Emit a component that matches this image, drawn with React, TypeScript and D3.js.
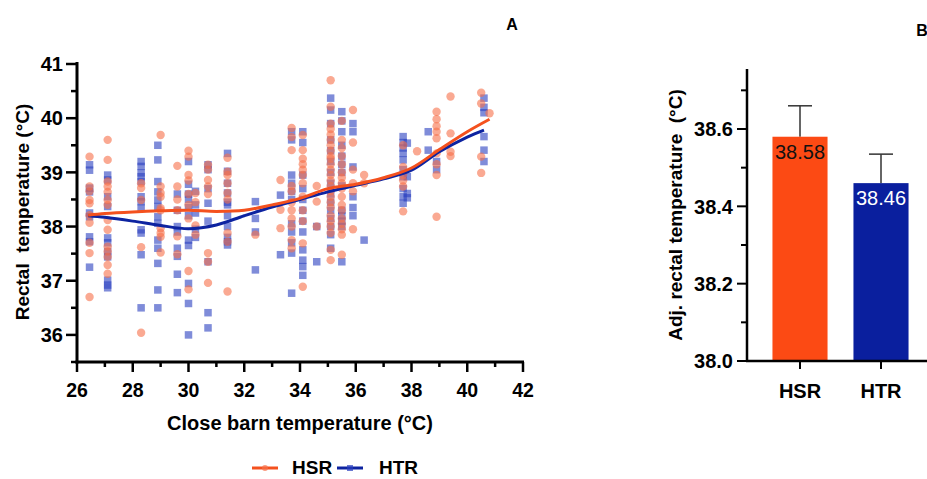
import * as d3 from 'd3';

// scatter (panel A): points grouped by barn temperature column
const hsrCols: [number, number[]][] = [
  [26.45, [39.29, 38.74, 38.65, 38.49, 38.43, 38.21, 38.07, 37.7, 37.51, 36.7]],
  [27.1, [39.6, 39.23, 38.83, 38.74, 38.64, 38.49, 38.4, 38.12, 37.94, 37.63, 37.54, 37.44, 37.29, 37.13]],
  [28.3, [38.8, 38.71, 38.49, 37.62, 36.04]],
  [29.0, [39.69, 38.74, 38.62, 38.55, 38.34, 38.3, 37.97, 37.88, 37.81, 37.52]],
  [29.6, [39.12, 38.74, 38.5, 38.3, 37.82, 37.49]],
  [30.0, [39.4, 39.29, 38.95, 38.85, 38.6, 38.4, 38.15, 37.18, 36.84]],
  [30.25, [38.62, 38.45, 38.02, 37.85]],
  [30.7, [39.14, 39.05, 38.86, 38.74, 38.6, 37.51, 37.35, 36.96]],
  [31.4, [39.27, 39.01, 38.95, 38.8, 38.62, 38.5, 37.88, 37.72, 36.8]],
  [32.4, [37.85]],
  [33.3, [38.86, 38.31, 37.97]],
  [33.7, [39.82, 39.65, 39.41, 38.75, 38.65, 38.45, 38.3, 38.15, 38.0, 37.75, 37.6]],
  [34.1, [39.69, 39.41, 39.25, 39.15, 39.05, 38.95, 38.8, 38.55, 38.3, 38.1, 37.69, 36.89]],
  [34.6, [38.75, 38.46, 38.0]],
  [35.1, [40.7, 40.21, 39.9, 39.8, 39.7, 39.6, 39.5, 39.4, 39.3, 39.25, 39.15, 39.05, 38.95, 38.85, 38.75, 38.65, 38.55, 38.45, 38.35, 38.2, 38.1, 38.0, 37.88, 37.57, 37.38]],
  [35.5, [39.95, 39.6, 39.45, 39.3, 39.15, 39.0, 38.9, 38.8, 38.7, 38.55, 38.4, 38.3, 38.15, 38.05, 37.95, 37.85, 37.48]],
  [35.9, [40.15, 39.55, 39.05, 38.8, 38.65, 37.95]],
  [36.3, [38.95, 38.8]],
  [37.7, [39.5, 39.1, 38.95, 38.85, 38.74, 38.28]],
  [38.2, [39.39]],
  [38.9, [40.12, 39.98, 39.85, 39.75, 39.63, 39.35, 39.15, 38.95, 38.18]],
  [39.4, [40.4, 39.72, 39.38, 39.3]],
  [40.5, [40.47, 40.27, 39.29, 38.99]],
  [40.8, [40.09]],
];

const htrCols: [number, number[]][] = [
  [26.45, [39.14, 39.04, 38.71, 38.64, 38.25, 38.18, 37.81, 37.72, 37.25]],
  [27.1, [38.95, 38.86, 38.55, 38.37, 37.79, 37.7, 37.54, 37.44, 37.01, 36.92, 36.87]],
  [28.3, [39.2, 39.11, 38.99, 38.92, 38.83, 38.55, 38.46, 38.34, 37.94, 37.88, 37.48, 36.5]],
  [28.9, [39.5, 39.23, 38.83, 38.64, 38.49, 38.37, 38.18, 38.06, 37.75, 37.6, 37.32, 36.83, 36.5]],
  [29.6, [38.6, 38.3, 38.0, 37.9, 37.6, 37.45, 37.12, 36.78]],
  [30.0, [39.2, 38.78, 38.6, 38.5, 38.35, 38.2, 37.75, 37.65, 36.95, 36.58, 36.0]],
  [30.25, [38.65, 38.4, 38.25, 37.95, 37.8]],
  [30.7, [39.14, 39.05, 38.7, 38.43, 38.1, 37.35, 36.41, 36.13]],
  [31.4, [39.35, 39.02, 38.8, 38.62, 38.45, 38.4, 38.2, 38.0, 37.8, 37.72, 37.66]],
  [32.4, [38.46, 38.15, 37.9, 37.2]],
  [33.3, [38.58, 37.48]],
  [33.7, [39.75, 39.6, 38.95, 38.8, 38.65, 38.5, 38.05, 37.9, 37.7, 37.51, 36.77]],
  [34.1, [39.75, 39.55, 38.95, 38.7, 38.5, 38.3, 38.1, 37.9, 37.57, 37.38, 37.26, 37.1]],
  [34.6, [38.0, 37.35]],
  [35.1, [40.37, 40.15, 39.9, 39.6, 39.4, 39.2, 39.0, 38.8, 38.6, 38.45, 38.3, 38.15, 38.0, 37.85, 37.6]],
  [35.5, [40.12, 39.95, 39.75, 39.5, 39.3, 39.15, 39.0, 38.75, 38.3, 38.2, 38.1, 38.0, 37.35]],
  [35.9, [39.9, 39.75, 39.1, 38.55, 38.35, 38.2]],
  [36.3, [37.75]],
  [37.7, [39.66, 39.55, 39.45, 39.35, 39.23, 39.05, 38.92, 38.7, 38.55, 38.43]],
  [37.85, [39.54, 38.92, 38.61, 38.53]],
  [38.6, [39.75, 39.41]],
  [38.9, [39.2, 39.05]],
  [40.6, [40.37, 40.2, 40.1, 39.66, 39.41, 39.2]],
];

// smoothed trend lines
const trendX = [26.4, 27, 28, 29, 30, 31, 32, 33, 34, 35, 36, 37, 38, 39, 40, 40.8];
const hsrTrendY = [38.21, 38.24, 38.27, 38.29, 38.3, 38.28, 38.3, 38.4, 38.52, 38.7, 38.78, 38.9, 39.08, 39.42, 39.75, 39.98];
const htrTrendX = [26.4, 27, 28, 29, 30, 31, 32, 33, 34, 35, 36, 37, 38, 39, 40, 40.6];
const htrTrendY = [38.2, 38.17, 38.1, 38.02, 37.96, 38.03, 38.2, 38.36, 38.5, 38.64, 38.76, 38.88, 39.04, 39.38, 39.65, 39.78];

// bar chart (panel B)
const groups = ['HSR', 'HTR'];
const adjMeans = [38.58, 38.46];
const adjSem = [0.08, 0.075];

const xTicksA = [26, 28, 30, 32, 34, 36, 38, 40, 42];
const yTicksA = [36, 37, 38, 39, 40, 41];
const yTicksB = [38.0, 38.2, 38.4, 38.6];

const ORANGE = '#f4511e';
const BLUE = '#0d23a0';
const FONT = 'Arial, "Liberation Sans", Helvetica, sans-serif';

export default function App() {
  const x = d3.scaleLinear().domain([26, 42]).range([77, 523]);
  const y = d3.scaleLinear().domain([35.5, 41]).range([362, 64]);

  const yB = d3.scaleLinear().domain([38, 38.75]).range([361, 71]);
  const xB = d3.scaleBand().domain(groups).range([759.5, 921.5]).paddingInner(0.32).paddingOuter(0.16);

  const line = d3.line<[number, number]>().x(d => x(d[0])).y(d => y(d[1])).curve(d3.curveCatmullRom.alpha(0.5));
  const hsrLine = line(trendX.map((v, i) => [v, hsrTrendY[i]]));
  const htrLine = line(htrTrendX.map((v, i) => [v, htrTrendY[i]]));

  const hsrPts = hsrCols.flatMap(([cx, ys]) => ys.map(v => [cx, v]));
  const htrPts = htrCols.flatMap(([cx, ys]) => ys.map(v => [cx, v]));

  const minorX = d3.range(27, 42, 2);
  const minorY = d3.range(35.5, 41, 1);
  const minorYB = [38.1, 38.3, 38.5, 38.7];

  return (
    <div style={{ position: 'fixed', left: 0, top: 0 }}>
      <svg width={927} height={479} style={{ display: 'block', background: '#fff' }} fontFamily={FONT}>
        {/* panel A */}
        <text x={512} y={30} fontSize={16} fontWeight="bold" textAnchor="middle">A</text>

        <g>
          {htrPts.map((d, i) => (
            <rect key={'b' + i} x={x(d[0]) - 3.75} y={y(d[1]) - 3.75} width={7.5} height={7.5}
              fill="#2a3fbf" fillOpacity={0.6} />
          ))}
          {hsrPts.map((d, i) => (
            <circle key={'o' + i} cx={x(d[0])} cy={y(d[1])} r={4.2}
              fill="#f6704a" fillOpacity={0.6} />
          ))}
        </g>
        <path d={htrLine ?? ''} fill="none" stroke={BLUE} strokeWidth={3} />
        <path d={hsrLine ?? ''} fill="none" stroke={ORANGE} strokeWidth={3} />

        {/* axes A */}
        <line x1={77} x2={77} y1={62} y2={363.5} stroke="#000" strokeWidth={3} />
        <line x1={75.5} x2={524} y1={362} y2={362} stroke="#000" strokeWidth={3} />
        {yTicksA.map(t => (
          <g key={t}>
            <line x1={66} x2={77} y1={y(t)} y2={y(t)} stroke="#000" strokeWidth={2.5} />
            <text x={63} y={y(t)} dy="0.36em" textAnchor="end" fontSize={20} fontWeight="bold">{t}</text>
          </g>
        ))}
        {minorY.map(t => (
          <line key={t} x1={71} x2={77} y1={y(t)} y2={y(t)} stroke="#000" strokeWidth={2.5} />
        ))}
        {xTicksA.map(t => (
          <g key={t}>
            <line x1={x(t)} x2={x(t)} y1={362} y2={372} stroke="#000" strokeWidth={2.5} />
            <text x={x(t)} y={397} textAnchor="middle" fontSize={19.5} fontWeight="bold">{t}</text>
          </g>
        ))}
        {minorX.map(t => (
          <line key={t} x1={x(t)} x2={x(t)} y1={362} y2={367} stroke="#000" strokeWidth={2.5} />
        ))}
        <text x={300} y={430} textAnchor="middle" fontSize={20} fontWeight="bold">Close barn temperature (°C)</text>
        <text transform="translate(29,212) rotate(-90)" textAnchor="middle" fontSize={19} fontWeight="bold"
          style={{ whiteSpace: 'pre' }}>{'Rectal  temperature (°C)'}</text>

        {/* legend */}
        <line x1={252} x2={278} y1={468} y2={468} stroke={ORANGE} strokeWidth={3} />
        <circle cx={265} cy={468} r={3} fill="#f6704a" fillOpacity={0.7} />
        <text x={292} y={474} fontSize={19} fontWeight="bold">HSR</text>
        <line x1={337} x2={363} y1={468} y2={468} stroke={BLUE} strokeWidth={3} />
        <rect x={347} y={465} width={6} height={6} fill="#2a3fbf" fillOpacity={0.7} />
        <text x={379} y={474} fontSize={19} fontWeight="bold">HTR</text>

        {/* panel B */}
        <text x={922} y={36} fontSize={16} fontWeight="bold" textAnchor="middle">B</text>
        {groups.map((g, i) => {
          const bx = xB(g) ?? 0;
          const cx = bx + xB.bandwidth() / 2;
          return (
            <g key={g}>
              <line x1={cx} x2={cx} y1={yB(adjMeans[i])} y2={yB(adjMeans[i] + adjSem[i])} stroke="#333" strokeWidth={1.5} />
              <line x1={cx - 12} x2={cx + 12} y1={yB(adjMeans[i] + adjSem[i])} y2={yB(adjMeans[i] + adjSem[i])} stroke="#333" strokeWidth={1.5} />
              <rect x={bx} y={yB(adjMeans[i])} width={xB.bandwidth()} height={yB(38) - yB(adjMeans[i])}
                fill={i === 0 ? '#fc4a14' : '#0a1f9e'} />
              <text x={cx} y={yB(adjMeans[i]) + 22} textAnchor="middle" fontSize={20}
                fill={i === 0 ? '#111' : '#fff'}>{adjMeans[i].toFixed(2)}</text>
              <line x1={cx} x2={cx} y1={361} y2={369} stroke="#000" strokeWidth={2} />
              <text x={cx} y={398} textAnchor="middle" fontSize={20} fontWeight="bold">{g}</text>
            </g>
          );
        })}
        <line x1={747} x2={747} y1={69} y2={362} stroke="#000" strokeWidth={2.5} />
        <line x1={746} x2={927} y1={361} y2={361} stroke="#000" strokeWidth={2.5} />
        {yTicksB.map(t => (
          <g key={t}>
            <line x1={737} x2={747} y1={yB(t)} y2={yB(t)} stroke="#000" strokeWidth={2} />
            <text x={733} y={yB(t)} dy="0.36em" textAnchor="end" fontSize={20} fontWeight="bold">{t.toFixed(1)}</text>
          </g>
        ))}
        {minorYB.map(t => (
          <line key={t} x1={741} x2={747} y1={yB(t)} y2={yB(t)} stroke="#000" strokeWidth={2} />
        ))}
        <text transform="translate(682,215) rotate(-90)" textAnchor="middle" fontSize={19} fontWeight="bold"
          style={{ whiteSpace: 'pre' }}>{'Adj. rectal temperature  (°C)'}</text>
      </svg>
    </div>
  );
}
